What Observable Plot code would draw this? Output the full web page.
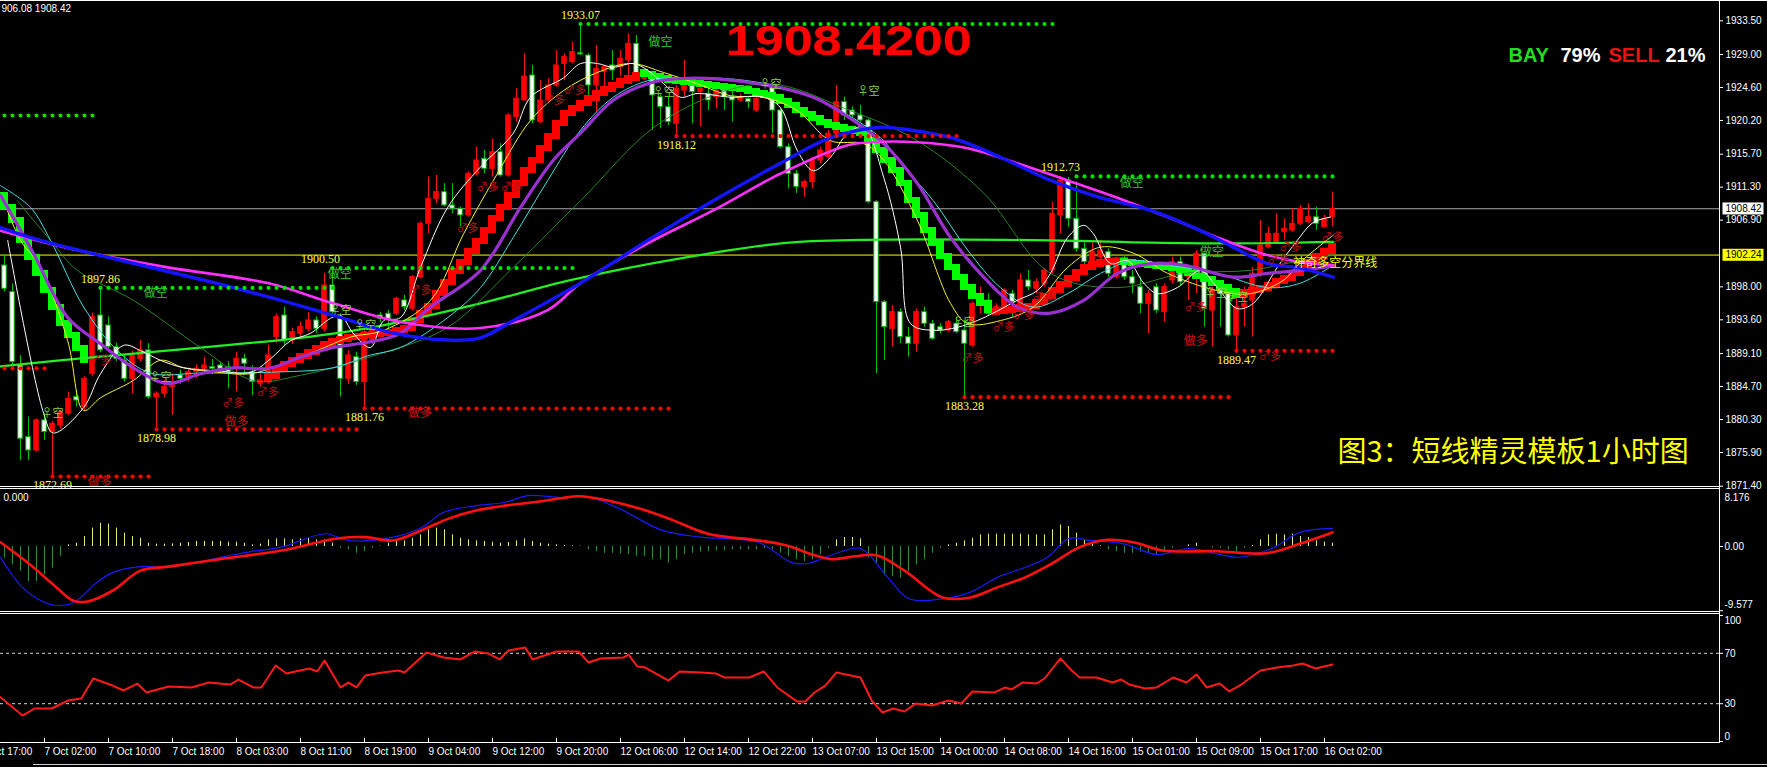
<!DOCTYPE html>
<html><head><meta charset="utf-8">
<script src="https://cdn.jsdelivr.net/npm/d3@7"></script>
<script src="https://cdn.jsdelivr.net/npm/@observablehq/plot@0.6"></script>
<style>
html,body{margin:0;padding:0;background:#000;overflow:hidden}
#root{position:relative;width:1767px;height:767px;background:#000;overflow:hidden}
#root svg{position:absolute;left:0;display:block}
.ln{position:absolute;background:#fff}
</style></head><body><div id="root"></div>
<script>
// ---------------- DATA ----------------
const open = [1900.85,1897.30,1887.51,1877.95,1876.17,1880.18,1878.62,1879.50,1881.07,1883.29,
1881.95,1886.40,1894.18,1892.85,1889.96,1888.18,1885.73,1888.40,1889.52,1883.29,
1883.74,1884.62,1886.18,1885.96,1886.62,1887.07,1887.29,1887.51,1887.29,1887.29,
1888.40,1886.62,1885.07,1885.73,1891.29,1894.18,1890.85,1891.74,1892.40,1893.52,
1892.40,1898.19,1893.74,1885.73,1888.62,1885.29,1890.85,1894.18,1894.41,1894.41,
1896.19,1895.08,1899.30,1906.41,1909.75,1910.64,1908.86,1908.42,1907.53,1913.09,
1915.09,1913.75,1915.97,1912.86,1920.65,1922.87,1926.20,1919.98,1922.87,1924.87,
1927.76,1927.98,1929.18,1928.87,1924.87,1926.65,1927.54,1927.32,1928.21,1930.43,
1925.76,1925.76,1923.31,1921.98,1919.76,1924.20,1925.09,1923.98,1923.76,1923.31,
1924.20,1923.31,1922.87,1923.09,1921.53,1923.31,1924.65,1921.53,1916.64,1913.09,
1911.31,1911.97,1914.86,1915.31,1918.42,1922.65,1921.53,1920.87,1920.20,1909.31,
1895.96,1892.40,1894.63,1891.29,1890.40,1894.63,1893.07,1892.62,1892.18,1893.07,
1892.18,1890.18,1895.52,1896.18,1894.63,1895.29,1897.07,1895.52,1898.85,1897.74,
1898.41,1900.18,1907.52,1912.20,1907.08,1903.07,1901.30,1901.96,1902.63,1899.29,
1901.52,1899.29,1897.96,1895.74,1897.96,1894.63,1898.85,1901.30,1899.29,1899.29,
1902.41,1894.85,1897.52,1897.52,1891.51,1895.29,1896.18,1899.74,1903.30,1903.96,
1905.30,1905.52,1906.41,1906.63,1907.30,1905.97,1907.30];
const high = [1902.20,1898.40,1888.85,1880.62,1880.40,1881.07,1880.00,1881.50,1883.96,1884.20,
1886.00,1894.50,1897.86,1894.00,1890.50,1889.00,1889.40,1890.85,1890.40,1884.00,
1885.50,1886.40,1886.90,1887.20,1887.60,1888.60,1888.30,1888.00,1888.00,1889.30,
1889.00,1887.50,1886.50,1890.20,1894.40,1895.30,1892.50,1893.30,1894.60,1894.00,
1899.80,1900.50,1894.40,1889.50,1889.30,1892.30,1892.80,1894.60,1894.85,1896.60,
1896.85,1899.52,1906.64,1912.64,1912.86,1911.75,1911.75,1908.64,1913.31,1916.64,
1916.20,1917.75,1917.09,1921.09,1924.42,1929.10,1927.54,1925.54,1925.76,1929.54,
1929.10,1930.65,1933.07,1929.10,1930.20,1927.54,1929.54,1929.54,1931.76,1931.54,
1926.87,1926.20,1923.76,1923.31,1924.87,1928.21,1925.31,1924.87,1924.65,1924.87,
1924.65,1924.20,1923.76,1923.31,1923.54,1924.20,1924.87,1921.76,1917.09,1913.53,
1912.20,1915.31,1916.64,1918.87,1924.87,1923.31,1922.00,1922.20,1920.42,1909.53,
1896.18,1895.52,1895.07,1892.62,1895.07,1895.29,1893.51,1893.07,1893.51,1893.96,
1893.51,1895.96,1897.96,1897.07,1895.74,1897.74,1897.52,1899.74,1900.18,1899.07,
1900.41,1909.30,1912.73,1912.60,1912.00,1904.19,1903.96,1904.19,1903.07,1901.96,
1902.18,1900.18,1899.29,1897.52,1898.41,1898.41,1901.96,1901.96,1900.63,1902.85,
1902.41,1897.96,1897.96,1897.96,1897.52,1897.96,1900.63,1906.85,1905.97,1907.74,
1907.08,1908.41,1908.86,1909.08,1908.63,1907.52,1910.64];
const low = [1897.30,1887.00,1874.84,1874.84,1875.95,1877.50,1872.69,1879.00,1880.80,1882.00,
1881.50,1886.00,1889.20,1889.50,1888.00,1885.30,1883.74,1888.00,1883.00,1878.98,
1883.20,1880.85,1885.00,1885.30,1885.80,1886.50,1886.30,1886.50,1884.40,1884.00,
1886.50,1883.50,1884.60,1885.00,1890.50,1890.20,1890.30,1891.00,1892.00,1891.80,
1892.00,1894.00,1883.30,1885.00,1884.80,1881.76,1890.30,1893.20,1892.19,1894.20,
1894.85,1894.80,1899.08,1905.08,1909.08,1908.64,1907.75,1906.00,1907.30,1912.86,
1913.09,1912.64,1912.64,1912.64,1919.98,1922.87,1919.76,1919.76,1922.42,1924.65,
1925.54,1927.76,1928.87,1922.87,1921.31,1924.65,1925.54,1925.98,1925.98,1925.76,
1925.54,1918.87,1919.09,1919.53,1918.20,1923.31,1919.76,1919.31,1921.53,1921.76,
1921.53,1919.98,1922.65,1921.76,1921.31,1923.00,1918.42,1916.42,1911.08,1910.42,
1909.97,1911.08,1914.42,1915.09,1918.20,1920.20,1920.20,1919.98,1909.08,1886.40,
1888.18,1889.95,1890.40,1888.62,1889.29,1892.62,1890.85,1891.73,1891.96,1891.73,
1883.28,1889.95,1894.40,1894.18,1894.40,1895.07,1893.96,1895.29,1897.52,1897.07,
1897.96,1899.74,1905.08,1905.97,1902.63,1900.85,1900.85,1901.52,1899.29,1899.07,
1898.85,1897.07,1894.40,1891.73,1894.40,1893.29,1898.41,1898.20,1896.18,1897.07,
1892.62,1889.95,1892.62,1891.29,1889.47,1892.62,1891.29,1899.29,1903.07,1903.74,
1904.19,1905.30,1906.19,1906.41,1905.52,1905.97,1906.00];
const close = [1897.74,1887.96,1877.73,1876.17,1880.18,1878.62,1879.73,1881.29,1883.07,1882.84,
1885.73,1893.96,1889.52,1889.96,1888.40,1885.73,1888.85,1889.52,1883.29,1883.74,
1884.62,1885.29,1885.73,1886.62,1887.07,1887.51,1887.07,1887.07,1886.62,1888.40,
1887.74,1885.29,1885.51,1888.85,1893.96,1890.85,1891.96,1892.63,1893.52,1892.40,
1898.19,1894.63,1885.73,1888.85,1885.29,1891.96,1892.50,1893.74,1893.74,1896.41,
1895.30,1899.30,1906.41,1909.75,1910.64,1908.86,1908.42,1907.53,1913.09,1914.86,
1913.75,1915.97,1912.86,1920.87,1923.09,1926.07,1920.20,1922.87,1924.87,1927.54,
1928.65,1929.32,1929.01,1924.87,1927.09,1927.32,1926.87,1928.43,1930.43,1926.43,
1926.43,1923.54,1921.98,1919.98,1924.42,1925.09,1923.98,1924.42,1922.87,1924.20,
1923.31,1922.87,1923.31,1922.65,1923.09,1923.76,1921.53,1916.64,1913.09,1911.31,
1911.97,1914.86,1916.20,1918.42,1922.65,1920.87,1920.87,1920.20,1909.31,1895.96,
1892.62,1894.63,1891.29,1890.40,1894.63,1893.07,1891.07,1892.18,1893.29,1891.96,
1890.40,1895.74,1896.18,1894.40,1895.29,1897.52,1895.96,1898.85,1897.96,1898.63,
1900.18,1907.74,1912.20,1907.08,1903.07,1901.30,1902.63,1902.85,1899.74,1901.74,
1899.29,1898.41,1895.74,1897.07,1894.85,1897.96,1901.30,1898.63,1899.74,1902.41,
1895.07,1897.52,1897.07,1891.51,1895.29,1895.74,1899.74,1903.52,1905.08,1905.08,
1905.74,1906.41,1908.41,1907.30,1906.41,1907.08,1908.42];

// time axis (bar index -> label)
const tickIdx = [-3,5,13,21,29,37,45,53,61,69,77,85,93,101,109,117,125,133,141,149,157,165];
const tickLabels = ["6 Oct 17:00","7 Oct 02:00","7 Oct 10:00","7 Oct 18:00","8 Oct 03:00","8 Oct 11:00","8 Oct 19:00","9 Oct 04:00","9 Oct 12:00","9 Oct 20:00","12 Oct 06:00","12 Oct 14:00","12 Oct 22:00","13 Oct 07:00","13 Oct 15:00","14 Oct 00:00","14 Oct 08:00","14 Oct 16:00","15 Oct 01:00","15 Oct 09:00","15 Oct 17:00","16 Oct 02:00"];
const priceTicks = [1933.5,1929.0,1924.6,1920.2,1915.7,1911.3,1906.9,1898.0,1893.6,1889.1,1884.7,1880.3,1875.9,1871.4];
const lastPrice = 1908.42;
const boundaryPrice = 1902.24;

// moving averages [bar, price]
const blueMA = [[-0.5,1905.9],[4.5,1904.2],[28.6,1897.9],[41.1,1894.2],[48.3,1891.9],[55.4,1890.9],[59.5,1891.2],[63.6,1893.5],[72,1898.5],[80.4,1904.2],[88.6,1909.5],[97,1914.5],[103.3,1917.9],[109.5,1919.3],[112,1919.1],[118.3,1917.9],[124.5,1915.3],[130.8,1912.2],[137,1909.9],[143.3,1908.2],[149.5,1905.5],[153.6,1903.3],[157.9,1901.1],[162,1900.5],[166.1,1899.3]];
const magentaMA = [[-0.5,1905.5],[9.1,1902.9],[20.4,1900.6],[32.9,1898.5],[41.1,1895.8],[49.5,1893.3],[59.5,1892.5],[67.9,1894.9],[72,1898.5],[80.4,1903.8],[88.6,1908.2],[97,1913.1],[105.4,1916.9],[108.3,1917.3],[114.1,1917.3],[120.4,1916.5],[126.6,1914.5],[132.9,1912.2],[139.1,1909.9],[145.4,1907.3],[151.6,1904.6],[157,1902.5],[162,1901.3],[166.1,1900.9]];
const limeMA = [[-0.5,1887.4],[12,1888.7],[24.5,1889.9],[37,1891.2],[46,1892.6],[59.5,1895.8],[70.75,1898.9],[84.5,1901.8],[98.1,1903.9],[109.4,1904.3],[130.75,1904.2],[143.25,1903.9],[153.6,1903.8],[166.1,1904.0]];
const purpleMA = [[-0.5,1910.2],[3.6,1902.5],[7.9,1893.9],[12,1890.4],[16.1,1887.2],[20.4,1885.1],[24.5,1886.4],[28.6,1887.2],[32.9,1887.1],[37,1888.6],[41.1,1889.9],[45.4,1890.6],[49.5,1891.8],[53.25,1895.3],[59.5,1900.2],[64.5,1908.6],[68.6,1914.9],[72,1918.5],[76.1,1922.9],[80.4,1925.1],[84.5,1925.8],[92.9,1925.3],[101.1,1923.3],[106.1,1920.2],[109.9,1917.1],[114.1,1911.8],[118.25,1904.6],[122.4,1899.3],[126.6,1895.3],[130.75,1894.5],[134.9,1896.2],[139.1,1899.8],[143.25,1901.1],[147.4,1900.9],[153.6,1899.3],[157.9,1899.8],[162,1900.2],[166.1,1900.8]];
const cyanMA = [[-0.5,1911.5],[3.25,1908.6],[5.75,1904.2],[9.9,1895.3],[14.1,1889.5],[18.25,1886.5],[24.5,1886.5],[32.9,1886.6],[41.1,1887.2],[45.4,1888.8],[49.5,1889.9],[55.4,1893.9],[59.5,1897.9],[63.6,1904.6],[67.9,1912.2],[72,1918.9],[76.1,1923.3],[80.4,1925.5],[84.5,1925.9],[92.9,1925.5],[101.1,1923.3],[109.5,1917.9],[112,1914.5],[116.1,1909.5],[120.4,1902.9],[124.5,1897.9],[128.6,1895.3],[132.9,1897.1],[137,1899.8],[141.1,1901.5],[145.4,1900.9],[151.6,1899.8],[157.9,1897.9],[162,1898.5],[166.1,1900.9]];
const yellowMA = [[-0.1,1909.5],[2,1904.2],[4.5,1900.6],[7.9,1890.8],[9.9,1881.5],[12,1883.2],[16.1,1885.5],[19.5,1888.2],[22.4,1887.2],[26.6,1886.6],[30.75,1886.4],[34.9,1887.8],[39.1,1889.5],[43.25,1891.3],[47.4,1892.2],[53.25,1896.2],[57.4,1905.1],[61.6,1913.1],[65.75,1920.2],[69.9,1924.2],[74.1,1926.6],[78.25,1927.8],[82.4,1926.6],[86.6,1925.1],[90.75,1923.5],[94.9,1923.3],[99.1,1921.5],[103.25,1917.5],[107.4,1917.1],[109.9,1914.9],[114.1,1906.9],[118.25,1895.8],[120.4,1893.1],[124.5,1893.5],[128.6,1895.3],[132.9,1900.6],[137,1903.3],[141.1,1902.5],[145.4,1899.8],[151.6,1897.5],[155.75,1897.1],[159.9,1898.9],[162,1901.3],[166.1,1904.9]];
const whiteMA = [[0.4,1904.2],[4.9,1881.1],[6.1,1878.5],[9.9,1881.9],[12,1886.4],[14.9,1890.2],[17,1889.5],[19.5,1888.2],[22.4,1887.2],[26.6,1886.8],[30.75,1886.6],[33.25,1888.4],[35.75,1890.8],[38.25,1891.8],[40.75,1893.8],[42,1894.2],[43.6,1891.8],[45.75,1889.9],[47.4,1893.5],[49.5,1893.9],[52,1900.6],[55.4,1908.6],[59.5,1914.0],[63.6,1918.5],[65.75,1923.3],[69.9,1925.9],[72,1927.8],[74.1,1927.8],[76.1,1927.3],[78.6,1927.8],[80.4,1926.9],[82.4,1925.1],[84.5,1923.3],[86.6,1923.8],[90.75,1923.3],[94.9,1923.3],[97,1921.9],[99.1,1916.2],[101.1,1913.5],[103.25,1915.3],[105.4,1918.5],[107.4,1919.3],[109.9,1912.6],[112,1903.3],[113.25,1893.1],[116.1,1892.2],[119.1,1892.6],[121.6,1893.5],[123.6,1894.5],[126.6,1896.2],[129.1,1897.5],[130.75,1899.8],[132.9,1904.6],[134.9,1906.2],[136.1,1905.1],[138.25,1901.1],[140.4,1901.5],[142.4,1898.5],[144.1,1897.1],[146.6,1897.9],[149.5,1900.2],[151.6,1897.9],[154.1,1895.1],[156.1,1895.8],[159.1,1900.6],[161.6,1904.2],[163.6,1906.6],[165.75,1907.3]];
const darkGreenMA = [[1.6,1909.5],[5.75,1904.2],[9.1,1900.2],[16.1,1896.2],[24.5,1889.9],[31.1,1885.5],[37,1886.2],[47,1889.1],[55.4,1892.6],[63.6,1900.6],[72,1909.5],[82.4,1920.2],[94.9,1925.1],[105.75,1921.5],[114.1,1917.5],[122.4,1910.5],[130.75,1899.8],[139.1,1897.9],[147.4,1899.8],[155.75,1900.2],[162,1901.5],[166.1,1902.2]];

// trend staircase segments (one level per bar)
const stepSegments = [
 {up:false, from:0, base:1910.19, vals:[1908.59,1906.86,1904.19,1901.92,1899.79,1897.52,1895.25,1893.11,1891.51,1889.78,1888.18]},
 {up:true, from:33, base:1885.60, vals:[1886.04,1886.97,1887.64,1888.18,1888.71,1889.24,1889.78,1890.31,1890.71,1890.98,1891.24,1891.38,1891.51,1891.65,1891.78,1891.91,1892.18,1892.45,1893.51,1894.45,1895.38,1897.12,1898.58,1900.05,1901.25,1902.72,1904.05,1905.52,1907.12,1908.59,1910.19,1911.79,1913.53,1914.86,1916.46,1918.06,1919.80,1921.13,1921.80,1922.47,1923.13,1923.80,1924.33,1924.87,1925.40,1925.80,1926.20]},
 {up:false, from:80, base:1926.60, vals:[1926.34,1926.07,1925.80,1925.53,1925.40,1925.27,1925.13,1925.00,1924.87,1924.73,1924.60,1924.47,1924.33,1924.07,1923.80,1923.53,1923.27,1922.73,1922.20,1921.53,1921.00,1920.47,1919.93,1919.53,1919.27,1919.00,1918.73,1918.46,1917.53,1916.19,1914.86,1913.53,1911.79,1909.52,1907.52,1905.52,1903.79,1902.05,1900.58,1899.25,1897.92,1896.72,1895.78,1894.85]},
 {up:true, from:124, base:1894.60, vals:[1894.71,1894.85,1894.98,1895.25,1895.38,1895.92,1896.72,1897.52,1898.32,1899.12,1899.92,1900.58,1900.98,1901.25,1901.39,1901.45]},
 {up:false, from:140, base:1901.45, vals:[1901.25,1901.12,1900.98,1900.85,1900.72,1900.58,1900.45,1900.19,1899.79,1899.39,1898.98,1898.45,1897.92,1897.38,1896.85]},
 {up:true, from:155, base:1896.85, vals:[1897.25,1897.52,1897.78,1898.18,1898.72,1899.12,1899.79,1900.45,1901.25,1902.05,1902.72,1903.39]}
];

// support (red) / resistance (green) dotted levels
const levels = [
 {p:1920.86, from:0,   to:11,  res:true,  at:null},
 {p:1887.13, from:0,   to:5,   res:false, at:null},
 {p:1897.86, from:12,  to:41,  res:true,  at:12},
 {p:1872.69, from:6,   to:18,  res:false, at:6},
 {p:1878.98, from:19,  to:44,  res:false, at:19},
 {p:1900.50, from:41,  to:71,  res:true,  at:39.5},
 {p:1881.76, from:45,  to:83,  res:false, at:45},
 {p:1933.07, from:72,  to:131, res:true,  at:72},
 {p:1918.12, from:84,  to:119, res:false, at:84},
 {p:1912.73, from:134, to:166, res:true,  at:132},
 {p:1883.28, from:120, to:153, res:false, at:120},
 {p:1889.47, from:154, to:166, res:false, at:154}
];
const shortSignals = [[18.9,1897.1],[41.9,1899.7],[82,1930.6],[140.9,1911.8],[150.9,1902.6]];   // 做空
const longSignals  = [[11.9,1872.0],[29,1879.9],[51.9,1881.1],[148.9,1890.8]];                    // 做多
const shortMarks = [[6,1881.1],[19.5,1885.9],[42,1894.8],[45.1,1892.8],[82.4,1923.9],[95.75,1925.0],[108,1924.1],[119.9,1893.3],[151.4,1897.1],[154.1,1896.6]]; // ♀空
const longMarks = [[12,1888.2],[28.6,1882.5],[32.9,1883.9],[52,1897.5],[57.9,1905.8],[60.4,1911.3],[63.4,1911.3],[68.7,1922.9],[71.3,1924.2],[121,1888.5],[124.9,1892.6],[127.4,1894.2],[129.9,1896.6],[148.9,1895.2],[158.2,1888.7],[159.25,1901.5],[160.75,1903.3],[166,1904.6]]; // ♂多

// MACD
const macdHist = [-1.74,-2.74,-3.73,-5.22,-5.22,-4.23,-3.23,-1.49,0.25,0.50,
1.49,2.74,3.48,3.33,2.74,1.99,1.49,1.24,0.50,0.35,
0.35,0.40,0.50,0.60,0.75,0.75,0.75,0.75,0.65,0.65,
0.50,0.25,0.35,1.00,1.14,1.14,1.00,1.14,1.24,1.00,
1.00,0.50,-0.25,-0.50,-1.00,-0.75,-0.25,0.05,0.50,0.75,
0.85,1.24,1.74,2.49,2.74,2.49,1.74,1.24,1.00,0.85,
0.75,0.65,0.50,0.60,0.85,1.14,0.75,0.50,0.35,0.25,
0.15,0.10,0.05,-0.50,-0.75,-1.00,-1.00,-1.14,-1.24,-1.49,
-1.49,-1.99,-1.99,-2.49,-1.99,-1.24,-1.00,-0.85,-0.75,-0.65,
-0.65,-0.50,-0.50,-0.50,-0.50,-0.35,-0.50,-1.00,-1.49,-1.99,
-2.24,-1.99,-1.24,-0.25,1.00,1.34,1.34,1.14,-1.74,-2.49,
-4.23,-4.48,-4.73,-3.73,-2.74,-1.99,-1.00,-0.25,0.25,0.50,
0.85,1.24,1.74,1.84,1.84,1.84,1.84,1.84,1.74,1.74,
1.74,2.49,3.23,2.99,1.99,1.00,0.50,0.10,-0.50,-0.75,
-1.00,-1.00,-0.85,-1.00,-1.24,-0.75,-0.25,-0.05,0.25,0.50,
-0.05,-0.25,-0.25,-0.50,-0.75,-0.25,0.15,1.00,1.74,1.84,
1.74,1.84,1.49,1.34,0.85,0.65,0.50];
const macdMain = [[-0.5,-1.6],[2.25,-6.1],[5.1,-8.4],[6.5,-8.8],[8.6,-8.4],[11.4,-5.5],[13.5,-3.9],[17,-3.0],[20.5,-3.1],[27.5,-1.5],[31.1,-0.7],[34.6,-0.1],[40.1,1.9],[43,0.9],[48.6,1.4],[52.1,2.8],[54.9,5.1],[59.1,6.1],[62.6,6.6],[65.4,7.6],[69.6,7.3],[72.5,7.5],[76.6,5.8],[82.25,2.4],[87.1,1.4],[94.25,0.6],[98.4,-2.4],[100.5,-2.5],[104,-1.0],[107,-0.3],[110.4,-4.6],[113.1,-7.8],[117.25,-7.8],[120.75,-6.8],[124.1,-4.6],[127.6,-3.1],[130.4,-1.6],[133,1.2],[135.75,0.9],[139.9,0.4],[144,-1.2],[148.1,-0.3],[154.25,-1.6],[158.4,-0.3],[161.9,2.1],[166,2.7]];
const macdSignal = [[-0.5,0.64],[3,-2.5],[6.5,-6.1],[8.6,-8.1],[10.4,-8.2],[13.5,-6.6],[17,-3.6],[20.5,-3.0],[27.5,-1.8],[34.6,-0.6],[41.6,1.2],[45.1,1.4],[48.6,0.9],[52.1,2.4],[55.6,4.2],[59.1,5.4],[62.6,6.1],[66.1,6.6],[69.6,7.2],[71.75,7.5],[75.25,6.9],[80.1,5.4],[83.6,3.9],[87.9,1.9],[94.25,0.9],[97.75,0.15],[101.25,-1.3],[103.4,-1.9],[106.1,-1.5],[109,-1.3],[112.5,-3.6],[117.25,-7.6],[120.75,-7.6],[124.1,-6.1],[127.6,-4.6],[131,-2.5],[134.4,-0.1],[137.9,1.0],[141.25,0.6],[144.75,-0.6],[151.6,-0.7],[157.75,-1.0],[161.9,0.4],[166,2.1]];

// RSI
const rsi = [[-0.5,35.2],[2.25,20.6],[3.75,26.2],[5.9,26.2],[7.9,32.5],[9.6,34.1],[11.1,50],[13.5,44.4],[14.9,40.5],[16.6,46],[17.75,38.9],[20.5,43.7],[23.4,42.9],[25.5,46.8],[28.25,45.2],[29.25,49.2],[31.1,42.9],[32.1,42.9],[33.9,60.3],[35.25,54],[38.1,57.9],[39.1,55.6],[40,64.3],[42,42.9],[43,46.8],[44,42.9],[45.1,52.4],[47.25,54.8],[49.25,56.3],[50,54.8],[52.75,70.6],[54.9,66.7],[57,65.1],[58.75,71.4],[60.5,69.8],[61.9,65.1],[63,72.2],[65.1,74.6],[66,65.1],[69,71.4],[71.75,71.4],[73,62.7],[74.5,65.9],[77.4,66.7],[78,69],[79.1,59.5],[80.1,58.7],[83,48.4],[84.4,55.6],[87.1,54.8],[88.9,54],[90,50.8],[93.1,50.8],[94.9,55.6],[96.6,42.9],[99.1,31.7],[100.1,31.7],[101.25,38.9],[102.6,44.4],[104,54.8],[107,50.8],[108.4,32.5],[109.75,23],[111.1,26.2],[112.5,23.8],[113.9,30.2],[115.9,28.6],[118,32.5],[119.6,30.2],[121,39.7],[123.75,38.9],[125.1,42.9],[125.9,41.3],[127.25,46.8],[129,46],[130,50],[132,65.9],[133.4,56.3],[134.4,50.8],[136.5,50.8],[138.5,46.8],[139.6,49.2],[140.6,45.2],[142.6,42.1],[144,42.9],[146.1,50.8],[147.75,46.8],[149,53.2],[150.25,42.9],[151.9,46],[153.1,39.7],[154.6,45.2],[157,56.3],[159.1,58.7],[161.1,60.3],[162.25,61.9],[163.9,57.9],[166,61.1]];
const rsiLevels = [70,30];

// ---------------- RENDER ----------------
const root = document.getElementById("root");
const xDomain = [-0.5, 214.375];
const baseStyle = {background:"#000", color:"#fff", fontFamily:"Liberation Sans, Arial, sans-serif", fontSize:"10px", overflow:"visible"};
const cjk = "Noto Sans CJK SC, sans-serif";
const GREEN_DOT = "#00e000", RED = "#ff0000";

const bars = open.map((o,i)=>({i, o, h:high[i], l:low[i], c:close[i], up: close[i] >= o}));
const stepRows = stepSegments.flatMap(s => s.vals.map((v,k)=>({i:s.from+k, y1: k===0 ? s.base : s.vals[k-1], y2:v, up:s.up})));
const dotRows = levels.flatMap(L => d3.range(L.from, L.to+1).map(i=>({i, p:L.p, res:L.res})));
const labeled = levels.filter(L=>L.at!==null);
const P = ([i,p])=>({i,p});
const over = (txt, dx, dy, opts) => Plot.text([txt], {frameAnchor:"top-left", dx, dy, textAnchor:"start", lineAnchor:"middle", ...opts});

const main = Plot.plot({
  width:1767, height:486, marginLeft:0, marginRight:48, marginTop:0, marginBottom:0,
  style: baseStyle,
  x:{domain:xDomain, axis:null},
  y:{domain:[1871.4,1933.5], range:[485.7,20.3], axis:null, label:null},
  marks:[
    Plot.ruleY([lastPrice], {stroke:"#a8a8a8", strokeWidth:1}),
    Plot.ruleY([boundaryPrice], {stroke:"#ffff00", strokeWidth:1}),
    Plot.ruleX(bars, {x:"i", y1:"l", y2:"h", stroke:d=>d.up?"#ff1010":"#00c000", strokeWidth:1}),
    Plot.rect(bars, {x1:d=>d.i-0.28, x2:d=>d.i+0.28, y1:"o", y2:"c", fill:d=>d.up?"#ff0000":"#ffffff", stroke:d=>d.up?"#ff0000":"#00b000", strokeWidth:1}),
    Plot.rect(stepRows, {x1:d=>d.i-0.5, x2:d=>d.i+0.5, y1:"y1", y2:"y2", fill:d=>d.up?"#ff0000":"#00ff00", insetTop:-3, insetBottom:-3}),
    Plot.line(limeMA, {x:d=>d[0], y:d=>d[1], stroke:"#22ee22", strokeWidth:2.2, curve:"catmull-rom"}),
    Plot.line(darkGreenMA, {x:d=>d[0], y:d=>d[1], stroke:"#2f8f2f", strokeWidth:0.9, curve:"catmull-rom"}),
    Plot.line(cyanMA, {x:d=>d[0], y:d=>d[1], stroke:"#40e0e0", strokeWidth:1, curve:"catmull-rom"}),
    Plot.line(yellowMA, {x:d=>d[0], y:d=>d[1], stroke:"#f2f230", strokeWidth:1, curve:"catmull-rom"}),
    Plot.line(whiteMA, {x:d=>d[0], y:d=>d[1], stroke:"#ffffff", strokeWidth:1, curve:"catmull-rom"}),
    Plot.line(purpleMA, {x:d=>d[0], y:d=>d[1], stroke:"#9b30d0", strokeWidth:3.2, curve:"catmull-rom"}),
    Plot.line(magentaMA, {x:d=>d[0], y:d=>d[1], stroke:"#ff30ff", strokeWidth:2.6, curve:"catmull-rom"}),
    Plot.line(blueMA, {x:d=>d[0], y:d=>d[1], stroke:"#1414ff", strokeWidth:3.4, curve:"catmull-rom"}),
    Plot.dot(dotRows, {x:"i", y:"p", r:2.1, fill:d=>d.res?GREEN_DOT:RED, stroke:null}),
    Plot.text(labeled.filter(L=>L.res), {x:"at", y:"p", text:d=>d.p.toFixed(2), dy:-9, fill:"#ffff40", fontSize:12, fontFamily:"Liberation Serif, serif"}),
    Plot.text(labeled.filter(L=>!L.res), {x:"at", y:"p", text:d=>d.p.toFixed(2), dy:9, fill:"#ffff40", fontSize:12, fontFamily:"Liberation Serif, serif"}),
    Plot.text(shortSignals.map(P), {x:"i", y:"p", text:()=>"做空", fill:"#30c830", fontSize:12, fontFamily:cjk}),
    Plot.text(longSignals.map(P), {x:"i", y:"p", text:()=>"做多", fill:"#d01010", fontSize:12, fontFamily:cjk}),
    Plot.text(shortMarks.map(P), {x:"i", y:"p", text:()=>"♀空", fill:"#8cd040", fontSize:11, fontFamily:cjk}),
    Plot.text(longMarks.map(P), {x:"i", y:"p", text:()=>"♂多", fill:"#c01010", fontSize:11, fontFamily:cjk}),
    Plot.text([{i:161.1, p:boundaryPrice}], {x:"i", y:"p", text:()=>"神奇多空分界线", textAnchor:"start", dy:8, fill:"#ffff00", fontSize:12, fontFamily:cjk}),
    Plot.frame({anchor:"right", stroke:"#fff"}),
    Plot.axisY(priceTicks, {anchor:"right", tickSize:3, tickPadding:3, tickFormat:d=>d.toFixed(2), color:"#fff", fontSize:10, label:null}),
    Plot.text([lastPrice], {y:d=>d, text:d=>d.toFixed(2), frameAnchor:"right", dx:6, textAnchor:"start", fill:"#000", fontSize:10}),
    Plot.text([boundaryPrice], {y:d=>d, text:d=>d.toFixed(2), frameAnchor:"right", dx:6, textAnchor:"start", fill:"#000", fontSize:10}),
    over("906.08 1908.42", 1, 8, {fill:"#fff", fontSize:10}),
    over("1908.4200", 725, 41, {fill:"#ff0000", fontSize:42, fontWeight:"bold"}),
    over("BAY", 1508, 55, {fill:"#22dd22", fontSize:20, fontWeight:"bold"}),
    over("79%", 1560, 55, {fill:"#ffffff", fontSize:20, fontWeight:"bold"}),
    over("SELL", 1608, 55, {fill:"#ee1111", fontSize:20, fontWeight:"bold"}),
    over("21%", 1665, 55, {fill:"#ffffff", fontSize:20, fontWeight:"bold"}),
    over("图3：短线精灵模板1小时图", 1337, 452, {fill:"#ffff00", fontSize:29, fontFamily:cjk})
  ]
});
main.style.top = "0px";
root.appendChild(main);

const macd = Plot.plot({
  width:1767, height:122, marginLeft:0, marginRight:48, marginTop:0, marginBottom:0,
  style: baseStyle,
  x:{domain:xDomain, axis:null},
  y:{domain:[-9.577, 8.176], range:[121.2, 2.2], axis:null, label:null},
  marks:[
    Plot.ruleX(macdHist.map((v,i)=>({i,v})), {x:"i", y1:0, y2:"v", stroke:d=>d.v>=0?"#e8e878":"#2e8b3e", strokeWidth:1}),
    Plot.line(macdMain, {x:d=>d[0], y:d=>d[1], stroke:"#1a1aff", strokeWidth:1.2, curve:"catmull-rom"}),
    Plot.line(macdSignal, {x:d=>d[0], y:d=>d[1], stroke:"#ff1010", strokeWidth:2.6, curve:"catmull-rom"}),
    Plot.frame({anchor:"right", stroke:"#fff"}),
    Plot.axisY([0, -9.577], {anchor:"right", tickSize:3, tickFormat:()=>"", color:"#fff", label:null}),
    Plot.text([8.176], {y:d=>d, text:d=>d.toFixed(3), frameAnchor:"right", dx:5, dy:6, textAnchor:"start", fill:"#fff", fontSize:10}),
    Plot.text([0], {y:d=>d, text:d=>d.toFixed(2), frameAnchor:"right", dx:5, textAnchor:"start", fill:"#fff", fontSize:10}),
    Plot.text([-9.577], {y:d=>d, text:d=>d.toFixed(3), frameAnchor:"right", dx:5, dy:-6, textAnchor:"start", fill:"#fff", fontSize:10}),
    over("0.000", 3, 8, {fill:"#fff", fontSize:10})
  ]
});
macd.style.top = "489px";
root.appendChild(macd);

const tickMap = new Map(tickIdx.map((t,k)=>[t, tickLabels[k]]));
const rsiPlot = Plot.plot({
  width:1767, height:153, marginLeft:0, marginRight:48, marginTop:0, marginBottom:25,
  style: baseStyle,
  x:{domain:xDomain, axis:null, label:null},
  y:{domain:[0,100], range:[127,1], axis:null, label:null},
  marks:[
    Plot.ruleY(rsiLevels, {stroke:"#d8d8d8", strokeDasharray:"3,3", strokeWidth:1}),
    Plot.line(rsi, {x:d=>d[0], y:d=>d[1], stroke:"#ff1a1a", strokeWidth:2, curve:"linear"}),
    Plot.frame({anchor:"right", stroke:"#fff"}),
    Plot.frame({anchor:"bottom", stroke:"#fff"}),
    Plot.axisY([100,70,30,0], {anchor:"right", tickSize:3, tickFormat:()=>"", color:"#fff", label:null}),
    Plot.text([100], {y:d=>d, text:d=>String(d), frameAnchor:"right", dx:5, dy:5, textAnchor:"start", fill:"#fff", fontSize:10}),
    Plot.text(rsiLevels, {y:d=>d, text:d=>String(d), frameAnchor:"right", dx:5, textAnchor:"start", fill:"#fff", fontSize:10}),
    Plot.text([0], {y:d=>d, text:d=>String(d), frameAnchor:"right", dx:5, dy:-5, textAnchor:"start", fill:"#fff", fontSize:10}),
    Plot.ruleX(tickIdx, {x:d=>d, y1:-0.9, y2:2.6, stroke:"#fff"}),
    Plot.axisX(tickIdx, {anchor:"bottom", tickSize:0, tickPadding:5, textAnchor:"start", dx:0, tickFormat:d=>tickMap.get(d), color:"#fff", fontSize:10, label:null})
  ]
});
rsiPlot.style.top = "614px";
root.appendChild(rsiPlot);

// price tags behind the axis labels, and stretch of the big price
function findText(svg, s){ return Array.from(svg.querySelectorAll("text")).filter(t => t.textContent === s); }
function tag(svg, s, bg){
  findText(svg, s).filter(t => t.getAttribute("fill") === "#000" || (t.parentNode.getAttribute("fill") === "#000")).forEach(t => {
    const bb = t.getBBox();
    const r = document.createElementNS("http://www.w3.org/2000/svg", "rect");
    r.setAttribute("x", bb.x - 3); r.setAttribute("y", bb.y - 0.5);
    r.setAttribute("width", 41); r.setAttribute("height", bb.height + 1);
    r.setAttribute("fill", bg);
    const tr = t.getAttribute("transform"); if (tr) r.setAttribute("transform", tr);
    t.parentNode.insertBefore(r, t);
  });
}
tag(main, "1908.42", "#ffffff");
tag(main, "1902.24", "#ffff00");
findText(main, "1908.4200").forEach(t => { t.setAttribute("textLength", 246); t.setAttribute("lengthAdjust", "spacingAndGlyphs"); });

// panel frame lines
function line(x, y, w, h, c){ const d = document.createElement("div"); d.className="ln"; Object.assign(d.style,{left:x+"px",top:y+"px",width:w+"px",height:h+"px",background:c||"#fff"}); root.appendChild(d); }
line(0,0,1767,1);
line(0,486,1720,1); line(0,488,1720,1);
line(0,611,1720,1); line(0,613,1720,1);
line(1719,0,1,742);
line(33,764,1734,1,"#d0d0d0");
</script></body></html>
